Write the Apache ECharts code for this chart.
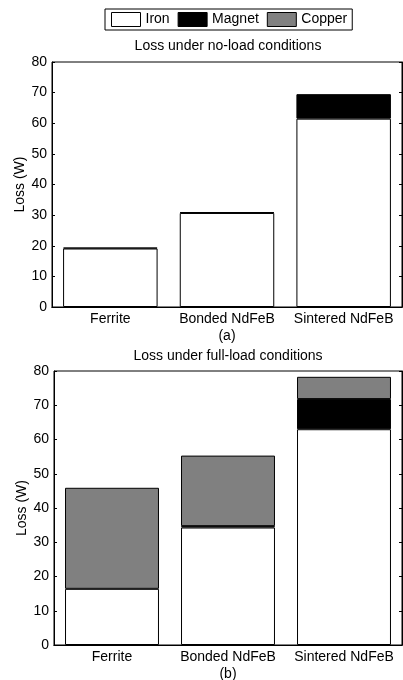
<!DOCTYPE html>
<html>
<head>
<meta charset="utf-8">
<script src="https://cdn.jsdelivr.net/npm/echarts@6/dist/echarts.min.js"></script>
<style>html,body{margin:0;padding:0;background:#fff}#c{width:403px;height:680px}</style>
</head>
<body>
<div id="c"></div>
<script>
const categories = ['Ferrite', 'Bonded NdFeB', 'Sintered NdFeB'];
const seriesNames = ['Iron', 'Magnet', 'Copper'];
const yTicks = [0, 10, 20, 30, 40, 50, 60, 70, 80];
// (a) no-load
const noLoadIron = [19.1, 30.7, 61.5];
const noLoadMagnet = [0.3, 0.3, 8.0];
const noLoadCopper = [0, 0, 0];
// (b) full-load
const fullLoadIron = [16.4, 34.3, 63.0];
const fullLoadMagnet = [0, 0.4, 8.8];
const fullLoadCopper = [29.5, 20.6, 6.5];

const FONT = 'Liberation Sans';
const FS = 14;
const colors = ['#ffffff', '#000000', '#808080'];
const clean = arr => arr.map(v => (v === 0 ? '-' : v));

const chart = echarts.init(document.getElementById('c'), null, {renderer: 'canvas'});

function xAxes(gi, name) {
  return [
    {
      type: 'category', gridIndex: gi, data: categories, position: 'bottom',
      axisLine: {lineStyle: {color: '#000', width: 1}},
      axisTick: {inside: true, alignWithLabel: true, length: 3, lineStyle: {color: '#000'}},
      axisLabel: {color: '#000', fontFamily: FONT, fontSize: FS, margin: 5, interval: 0},
      name: name, nameLocation: 'middle', nameGap: 22, nameMoveOverlap: false,
      nameTextStyle: {color: '#000', fontFamily: FONT, fontSize: FS}
    },
    {
      type: 'category', gridIndex: gi, data: categories, position: 'top',
      axisLine: {lineStyle: {color: '#000', width: 1}},
      axisTick: {inside: true, alignWithLabel: true, length: 3, interval: 0, lineStyle: {color: '#000'}},
      axisLabel: {show: false}
    }
  ];
}
function yAxes(gi) {
  const base = {
    type: 'value', gridIndex: gi, min: yTicks[0], max: yTicks[yTicks.length - 1],
    interval: yTicks[1] - yTicks[0], splitLine: {show: false},
    axisLine: {show: true, lineStyle: {color: '#000', width: 1}},
    axisTick: {show: true, inside: true, length: 3, lineStyle: {color: '#000'}}
  };
  return [
    Object.assign({}, base, {
      position: 'left',
      axisLabel: {color: '#000', fontFamily: FONT, fontSize: FS, margin: 5},
      name: 'Loss (W)', nameLocation: 'middle', nameGap: 25, nameRotate: 90, nameMoveOverlap: false,
      nameTextStyle: {color: '#000', fontFamily: FONT, fontSize: FS}
    }),
    Object.assign({}, base, {position: 'right', axisLabel: {show: false}})
  ];
}
function bars(gi, data, stack) {
  return data.map((d, i) => ({
    name: seriesNames[i], type: 'bar', stack: stack,
    xAxisIndex: gi * 2, yAxisIndex: gi * 2,
    data: clean(d), barCategoryGap: '19%',
    itemStyle: {color: colors[i], borderColor: '#000', borderWidth: 1},
    emphasis: {disabled: true}, animation: false
  }));
}

chart.setOption({
  animation: false,
  backgroundColor: '#fff',
  textStyle: {fontFamily: FONT},
  title: [
    {text: 'Loss under no-load conditions', left: 228, top: 39, textAlign: 'center',
     textStyle: {fontFamily: FONT, fontSize: FS, fontWeight: 'normal', color: '#000'}, padding: 0},
    {text: 'Loss under full-load conditions', left: 228, top: 349, textAlign: 'center',
     textStyle: {fontFamily: FONT, fontSize: FS, fontWeight: 'normal', color: '#000'}, padding: 0}
  ],
  legend: {
    data: seriesNames, left: 105, top: 9, orient: 'horizontal',
    itemWidth: 29, itemHeight: 14, itemGap: 8, icon: 'rect',
    padding: [3, 5, 3, 6], borderColor: '#000', borderWidth: 1,
    textStyle: {fontFamily: FONT, fontSize: FS, color: '#000'},
    itemStyle: {borderColor: '#000', borderWidth: 1},
    selectedMode: false
  },
  grid: [
    {left: 52, right: 1, top: 62, bottom: 373, show: true, borderColor: '#000', borderWidth: 1,
     backgroundColor: 'transparent', outerBoundsMode: 'none', containLabel: false},
    {left: 54, right: 1, top: 371, bottom: 35, show: true, borderColor: '#000', borderWidth: 1,
     backgroundColor: 'transparent', outerBoundsMode: 'none', containLabel: false}
  ],
  xAxis: xAxes(0, '(a)').concat(xAxes(1, '(b)')),
  yAxis: yAxes(0).concat(yAxes(1)),
  series: bars(0, [noLoadIron, noLoadMagnet, noLoadCopper], 'a')
    .concat(bars(1, [fullLoadIron, fullLoadMagnet, fullLoadCopper], 'b'))
});
</script>
</body>
</html>
